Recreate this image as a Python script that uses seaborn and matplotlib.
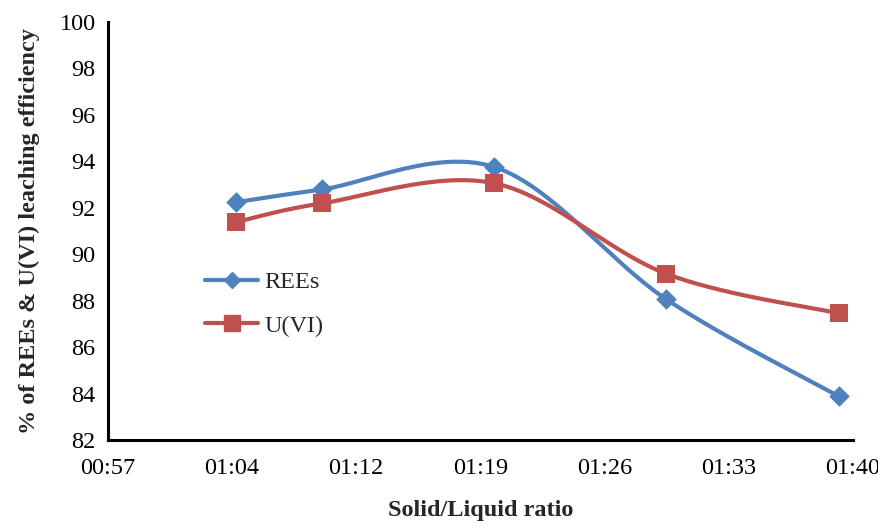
import numpy as np
import pandas as pd
import matplotlib
matplotlib.use("Agg")
import matplotlib.pyplot as plt
from matplotlib.lines import Line2D
from matplotlib.ticker import FixedLocator, FuncFormatter
import seaborn as sns

# Solid/liquid ratios 1:5 ... 1:40, stored as minutes (the spreadsheet read "1:05" as a time)
ratio_minutes = [65, 70, 80, 90, 100]
rees = [92.23, 92.78, 93.75, 88.05, 83.88]
uranium = [91.37, 92.18, 93.05, 89.15, 87.45]

x_ticks = [57.6, 64.8, 72.0, 79.2, 86.4, 93.6, 100.8]
y_ticks = [82, 84, 86, 88, 90, 92, 94, 96, 98, 100]

BLUE = "#4F81BD"
RED = "#C0504D"
FS = 17.5

sns.set_theme(style="white")
plt.rcParams["font.family"] = ["Liberation Serif", "DejaVu Serif"]

fig = plt.figure(figsize=(8.79, 5.24), dpi=100)
ax = fig.add_axes([0.1229, 0.1603, 0.8470, 0.7983])

xmin, xmax = x_ticks[0], x_ticks[-1]
ymin, ymax = 82, 100
ax.set_xlim(xmin, xmax)
ax.set_ylim(ymin, ymax)

# Axes size in pixels, so the smoothing happens in screen space
W, H = 0.8470 * 879, 0.7983 * 524


def smooth(xs, ys, n=60):
    """Bezier smoothing through the points (Catmull-Rom style control points)."""
    px = (np.asarray(xs, float) - xmin) / (xmax - xmin) * W
    py = (np.asarray(ys, float) - ymin) / (ymax - ymin) * H
    P = np.column_stack([px, py])
    P = np.vstack([P[0], P, P[-1]])
    out = []
    for i in range(1, len(P) - 2):
        p0, p1, p2, p3 = P[i - 1], P[i], P[i + 1], P[i + 2]
        c1 = p1 + (p2 - p0) / 6.0
        c2 = p2 - (p3 - p1) / 6.0
        t = np.linspace(0, 1, n)[:, None]
        seg = ((1 - t) ** 3) * p1 + 3 * ((1 - t) ** 2) * t * c1 + 3 * (1 - t) * t ** 2 * c2 + t ** 3 * p2
        out.append(seg if i == 1 else seg[1:])
    seg = np.vstack(out)
    sx = seg[:, 0] / W * (xmax - xmin) + xmin
    sy = seg[:, 1] / H * (ymax - ymin) + ymin
    return sx, sy


for vals, color, marker, ms in [(rees, BLUE, "D", 10.5), (uranium, RED, "s", 13)]:
    sx, sy = smooth(ratio_minutes, vals)
    curve = pd.DataFrame({"x": sx, "y": sy})
    sns.lineplot(data=curve, x="x", y="y", sort=False, color=color, lw=3.0, ax=ax,
                 estimator=None)
    pts = pd.DataFrame({"x": ratio_minutes, "y": vals})
    sns.scatterplot(data=pts, x="x", y="y", marker=marker, s=ms ** 2, color=color,
                    edgecolor=color, linewidth=0, ax=ax, zorder=5)


def fmt_time(v, pos):
    m = int(round(v * 60)) // 60
    return f"{m // 60:02d}:{m % 60:02d}"


ax.xaxis.set_major_locator(FixedLocator(x_ticks))
ax.xaxis.set_major_formatter(FuncFormatter(fmt_time))
ax.set_yticks(y_ticks)

for side in ["top", "right"]:
    ax.spines[side].set_visible(False)
for side in ["left", "bottom"]:
    ax.spines[side].set_linewidth(2.2)
    ax.spines[side].set_color("black")

ax.tick_params(axis="both", which="major", direction="out", length=4, width=2.2,
               colors="black", labelsize=FS, pad=5)
ax.tick_params(axis="x", pad=9)
ax.grid(False)

ax.set_xlabel("Solid/Liquid ratio", fontsize=FS, fontweight="bold", labelpad=15)
ax.set_ylabel("% of REEs & U(VI) leaching efficiency", fontsize=FS, fontweight="bold",
              labelpad=14)

handles = [
    Line2D([0], [0], color=BLUE, lw=3.0, marker="D", markersize=8),
    Line2D([0], [0], color=RED, lw=3.0, marker="s", markersize=11),
]
ax.legend(handles, ["REEs", "U(VI)"], loc="center left", bbox_to_anchor=(0.13, 0.325),
          frameon=False, fontsize=FS, handlelength=2.2, handletextpad=0.25,
          labelspacing=0.9, borderpad=0, borderaxespad=0)

fig.savefig("out.png", dpi=100, facecolor="white")
